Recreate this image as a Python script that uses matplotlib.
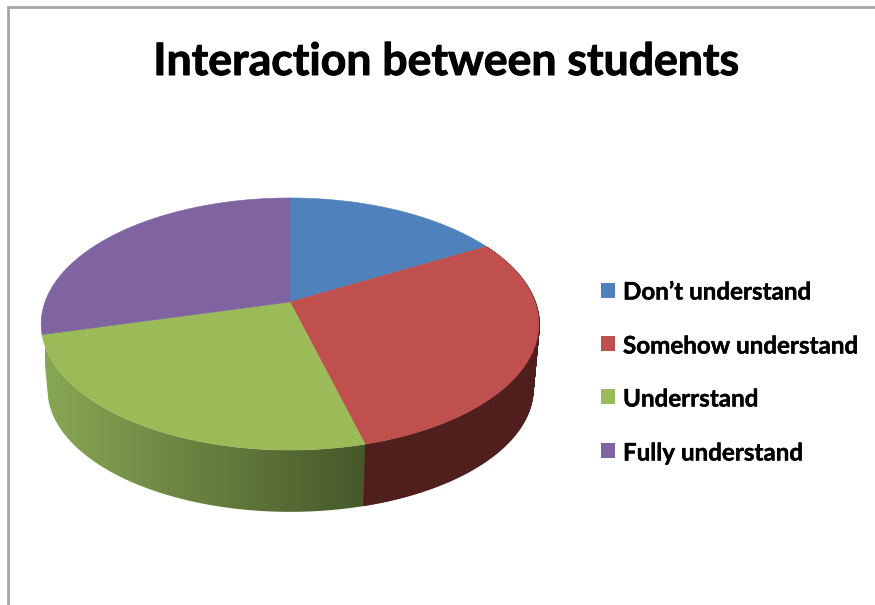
import numpy as np
import matplotlib
matplotlib.use('Agg')
import matplotlib.pyplot as plt
import matplotlib.patheffects as pe
from matplotlib.patches import Rectangle, Polygon
from matplotlib.collections import LineCollection

# Data
title = 'Interaction between students'
labels = ["Don\u2019t understand", 'Somehow understand', 'Underrstand', 'Fully understand']
values = [16.8, 29.1, 25.0, 29.1]
colors = ['#4F81BD', '#C0504D', '#9BBB59', '#8064A2']

plt.rcParams['font.family'] = ['Lato', 'DejaVu Sans']

fig = plt.figure(figsize=(8.75, 6.05), dpi=100)
ax = fig.add_axes([0, 0, 1, 1])
ax.set_xlim(0, 875)
ax.set_ylim(605, 0)
ax.axis('off')

# chart frame
ax.plot([7.5, 7.5, 875], [605, 6.5, 6.5], color='#A6A6A6', lw=2, solid_joinstyle='miter')


# perspective projection of the pie disc
def project(theta, cy=302.0, scale=1.0):
    u = np.sin(theta)
    v = np.cos(theta)
    b = 0.1746
    x = 290 + scale * 245 * u / (1 + b * v)
    y = cy - scale * 122.2 * v / (1 + b * v)
    return x, y


def wall(i, n=200):
    th = np.linspace(edges[i], edges[i + 1], n)
    x1, y1 = project(th)
    x2, y2 = project(th, cy=367.5, scale=0.975)
    return x1, y1, x2, y2


fractions = np.array(values) / sum(values)
edges = np.concatenate([[0], np.cumsum(fractions)]) * 2 * np.pi

# side wall: red is flat, green runs light to dark
x1, y1, x2, y2 = wall(1, 500)
segs = [[(a, b), (c, d)] for a, b, c, d in zip(x1, y1, x2, y2)]
ax.add_collection(LineCollection(segs, colors='#501F1D', linewidths=1.5, capstyle='butt', zorder=0.5))

x1, y1, x2, y2 = wall(2)
ramp = np.linspace(0, 1, 256)[None, :, None]
left = np.array([136, 167, 84]) / 255
right = np.array([70, 88, 42]) / 255
im = ax.imshow(left + (right - left) * ramp, extent=[45, 366, 515, 330], aspect='auto', interpolation='bilinear', zorder=0.6)
clip = Polygon(np.column_stack([np.r_[x1, x2[::-1]], np.r_[y1, y2[::-1]]]), closed=True, transform=ax.transData, fc='none', ec='none')
ax.add_patch(clip)
im.set_clip_path(clip)
ax.set_xlim(0, 875)
ax.set_ylim(605, 0)

# top face
for i in range(len(values)):
    th = np.linspace(edges[i], edges[i + 1], 200)
    x, y = project(th)
    ax.fill(np.r_[290, x], np.r_[302, y], color=colors[i], lw=0.4)

heavy = [pe.withStroke(linewidth=0.7, foreground='black')]
ax.text(446.5, 62, title, fontsize=32.1, fontweight='bold', color='black', ha='center', va='center', path_effects=heavy)

# legend
legend_y = [290, 343, 396, 450]
text_y = [292, 346, 399, 453]
for i in range(len(labels)):
    ax.add_patch(Rectangle((601, legend_y[i] - 7.5), 14, 15, color=colors[i], lw=0))
    ax.text(623, text_y[i], labels[i], fontsize=17.4, fontweight='bold', color='black', ha='left', va='center', path_effects=[pe.withStroke(linewidth=0.3, foreground='black')])

fig.savefig('out.png', dpi=100)
